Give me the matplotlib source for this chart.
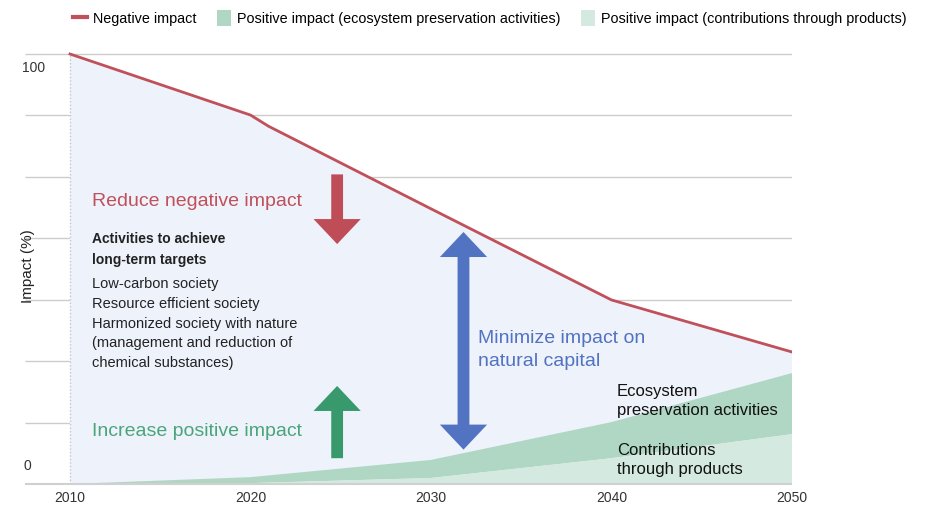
import matplotlib.pyplot as plt
import numpy as np
from matplotlib.patches import FancyArrowPatch, ArrowStyle, Patch
from matplotlib.lines import Line2D

plt.rcParams['font.family'] = ['Liberation Sans', 'DejaVu Sans']

# data
years = [2010, 2020, 2021, 2030, 2040, 2050]
negative = [100, 85.8, 83.2, 64.0, 42.8, 30.7]

pos_years = [2010, 2020, 2030, 2040, 2050]
contributions = [0, 0.2, 1.4, 6.0, 11.6]
ecosystem = [0, 1.4, 4.2, 8.4, 14.2]

xticks = [2010, 2020, 2030, 2040, 2050]

red = '#c0505a'
green_dark = '#b0d7c3'
green_light = '#d4eae0'
blue_fill = '#eef2fb'
text_dark = '#222222'

# 4.3 px per percent, 0 at y=484 px, axes padded by 2 units on top and bottom
fig = plt.figure(figsize=(9.28, 5.07), dpi=100)
ax = fig.add_axes([25 / 928, (507 - 484 - 8.6) / 507, 767 / 928, (430 + 17.2) / 507])
x0 = 2010 - 45 / 722 * 40
ax.set_xlim(x0, 2050)
ax.set_ylim(-2, 102)

# grid lines: left stub plus the part right of the negative impact curve
grid_y = np.linspace(0, 100, 8)[1:]
cross = np.interp(grid_y, negative[::-1], years[::-1])
ax.hlines(grid_y, x0, 2010, color='#cccccc', lw=1, zorder=0.2)
ax.hlines(grid_y, cross, 2050, color='#cccccc', lw=1, zorder=0.2)

# area under the negative impact line
ax.fill_between(years, negative, 0, facecolor=blue_fill, edgecolor='none', zorder=1.5)

# stacked positive impact areas
total = np.array(contributions) + np.array(ecosystem)
ax.fill_between(pos_years, total, contributions, facecolor=green_dark,
                edgecolor='none', zorder=2)
ax.fill_between(pos_years, contributions, 0, facecolor=green_light,
                edgecolor='none', zorder=2)
ax.hlines(0, x0, 2050, color='#d0d0d0', lw=1.5, zorder=3)
ax.plot([2010, 2010], [0, 100], color='#c8c8c8', lw=1, ls=(0, (1, 1.5)), zorder=2.5)

ax.plot(years, negative, color=red, lw=2, zorder=4, solid_joinstyle='round')

for s in ax.spines.values():
    s.set_visible(False)
ax.set_yticks([])
ax.set_xticks(xticks)
ax.set_xticklabels([str(x) for x in xticks], fontsize=10, color='#333333')
ax.tick_params(axis='x', length=0, pad=-1)

# y axis labels
fig.text(22 / 928, 1 - 68 / 507, '100', fontsize=10, color='#333333',
         ha='left', va='center')
fig.text(24 / 928, 1 - 466 / 507, '0', fontsize=10, color='#333333',
         ha='left', va='center')
fig.text(28 / 928, 1 - 266 / 507, 'Impact (%)', rotation=90, fontsize=11,
         color=text_dark, ha='center', va='center')


def arrow(xa, ya, xb, yb, color):
    style = ArrowStyle.Simple(head_length=18, head_width=34, tail_width=8.5)
    a = FancyArrowPatch((xa, ya), (xb, yb), arrowstyle=style, mutation_scale=1,
                        color=color, lw=0, shrinkA=0, shrinkB=0, zorder=5)
    ax.add_patch(a)


# arrows
arrow(2024.8, 72.0, 2024.8, 55.8, '#bf4d57')
arrow(2024.8, 6.0, 2024.8, 22.8, '#38996c')
arrow(2031.8, 40, 2031.8, 58.6, '#5272c2')
arrow(2031.8, 40, 2031.8, 8.0, '#5272c2')

# annotation texts
tx = 2011.2
ax.text(tx, 65.6, 'Reduce negative impact', fontsize=14, color=red, va='center')
ax.text(tx, 54.6, 'Activities to achieve\nlong-term targets', fontsize=10,
        fontweight='bold', color=text_dark, va='center', linespacing=1.6)
ax.text(tx, 37.3, 'Low-carbon society\nResource efficient society\n'
        'Harmonized society with nature\n(management and reduction of\n'
        'chemical substances)', fontsize=10.5, color=text_dark, va='center',
        linespacing=1.53)
ax.text(tx, 12.2, 'Increase positive impact', fontsize=14, color='#4aa57a',
        va='center')
ax.text(2032.6, 31.1, 'Minimize impact on\nnatural capital', fontsize=14,
        color='#5272c2', va='center', linespacing=1.48)
ax.text(2040.3, 19.3, 'Ecosystem\npreservation activities', fontsize=12,
        color='#111111', va='center', linespacing=1.27)
ax.text(2040.3, 5.6, 'Contributions\nthrough products', fontsize=12,
        color='#111111', va='center', linespacing=1.27)

handles = [Line2D([0], [0], color=red, lw=3),
           Patch(facecolor=green_dark, edgecolor='none'),
           Patch(facecolor=green_light, edgecolor='none')]
labels = ['Negative impact', 'Positive impact (ecosystem preservation activities)',
          'Positive impact (contributions through products)']
fig.legend(handles, labels, loc='upper right', bbox_to_anchor=(0.991, 1.005), ncol=3,
           frameon=False, fontsize=10.4, handlelength=1.0, handleheight=1.3,
           handletextpad=0.4, columnspacing=1.4)

fig.savefig('out.png', dpi=100)
